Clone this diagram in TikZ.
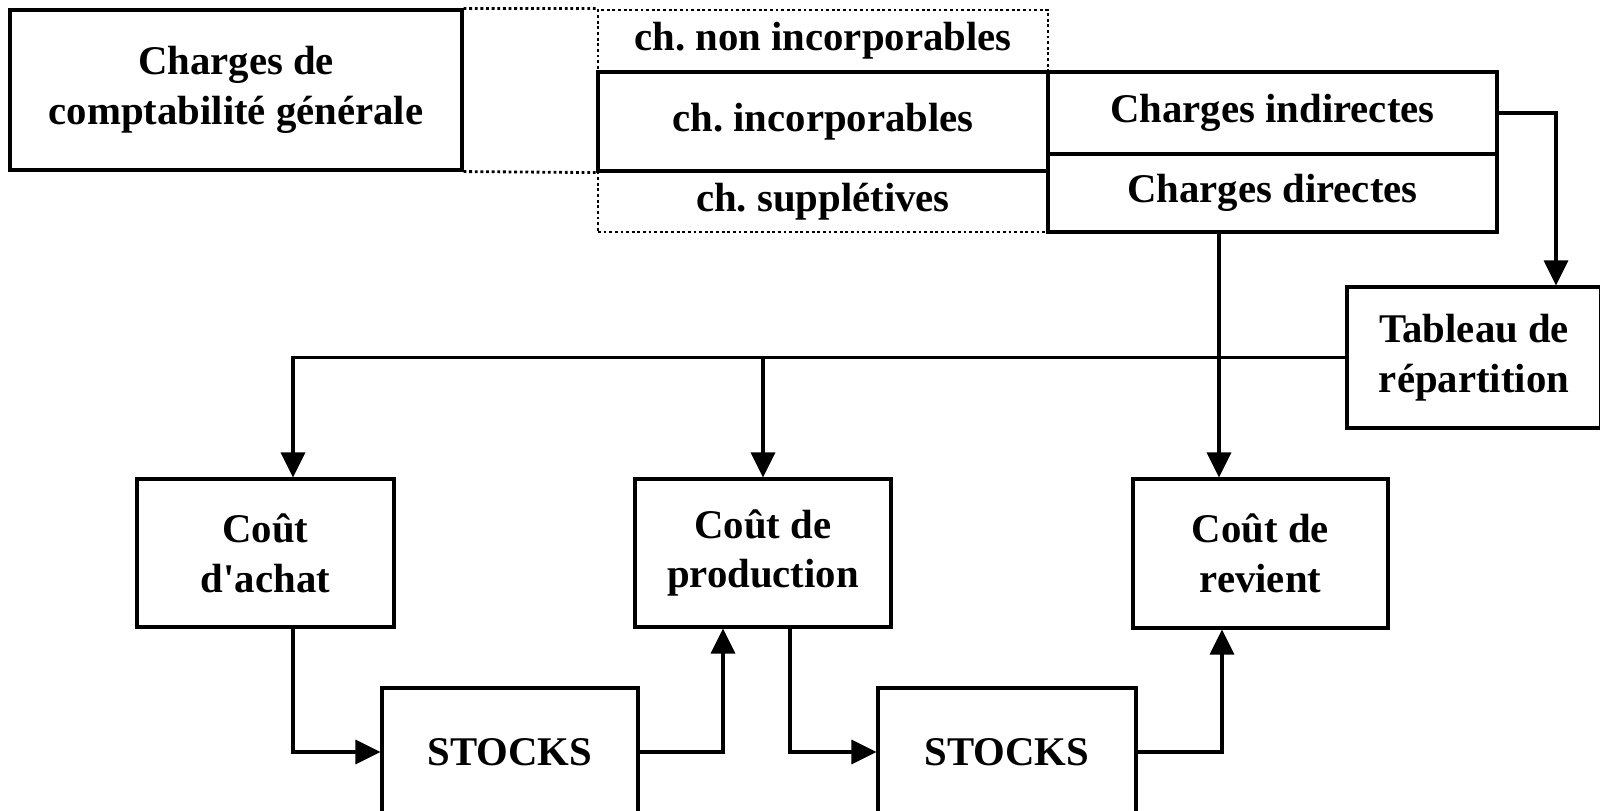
\documentclass[tikz,border=0pt]{standalone}
\usepackage{fontspec}
\setmainfont{Liberation Serif}[Ligatures=TeXOff]
\usetikzlibrary{arrows.meta}
\frenchspacing

\begin{document}
\begin{tikzpicture}[x=0.1mm, y=-0.1mm,
  box/.style={draw, line width=0.9pt, align=center, inner sep=0pt, font=\bfseries\fontsize{11.6}{14.2}\selectfont},
  dotbox/.style={box, line width=0.8pt, dash pattern=on 0.8pt off 0.8pt},
  dotline/.style={line width=0.8pt, dash pattern=on 0.8pt off 0.8pt},
  arr/.style={line width=0.9pt, -{Triangle[length=2.5mm, width=2.4mm]}}]
\useasboundingbox[fill=white] (0,0) rectangle (1600,811);

% charges
\node[box, minimum width=45.2mm, minimum height=16mm] (cg) at (236,90) {Charges de\\comptabilité générale};
\node[dotbox, minimum width=45mm, minimum height=6.2mm] (ni) at (823,41) {ch. non incorporables};
\node[dotbox, minimum width=45mm, minimum height=6.1mm] (sup) at (823,201.5) {ch. supplétives};
\node[box, minimum width=45mm, minimum height=9.9mm] (inc) at (823,121.5) {ch. incorporables};
\node[box, minimum width=44.9mm, minimum height=8.2mm] (ind) at (1272.5,113) {Charges indirectes};
\node[box, minimum width=44.9mm, minimum height=7.8mm] (dir) at (1272.5,193) {Charges directes};
\draw[dotline] (cg.north east) -- (ni.north west);
\draw[dotline] (cg.south east) -- (inc.south west);

% couts
\node[box, minimum width=25.4mm, minimum height=14.1mm] (tab) at (1474,357.5) {Tableau de\\répartition};
\node[box, minimum width=25.7mm, minimum height=14.8mm] (ach) at (265.5,553) {Coût\\d'achat};
\node[box, minimum width=25.6mm, minimum height=14.8mm] (prod) at (763,553) {Coût de\\production};
\node[box, minimum width=25.5mm, minimum height=14.9mm] (rev) at (1260.5,553.5) {Coût de\\revient};
\node[box, minimum width=25.6mm, minimum height=12.8mm] (st1) at (510,752) {STOCKS};
\node[box, minimum width=25.8mm, minimum height=12.8mm] (st2) at (1007,752) {STOCKS};

\coordinate (xa) at (293,0);
\coordinate (xb) at (723,0);
\coordinate (xc) at (790,0);
\coordinate (xd) at (1222,0);
\coordinate (xe) at (1219,0);
\coordinate (xf) at (1556,0);

\draw[arr] (ind.east) -| (xf |- tab.north);
\draw[arr] (tab.west) -| (xa |- ach.north);
\draw[arr] (tab.west -| prod.north) -- (prod.north);
\draw[arr] (xe |- dir.south) -- (xe |- rev.north);
\draw[arr] (xa |- ach.south) |- (st1.west);
\draw[arr] (st1.east) -| (xb |- prod.south);
\draw[arr] (xc |- prod.south) |- (st2.west);
\draw[arr] (st2.east) -| (xd |- rev.south);
\end{tikzpicture}
\end{document}
